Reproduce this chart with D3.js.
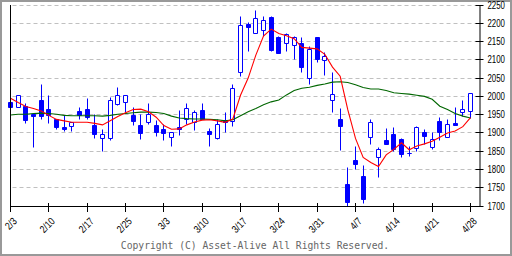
<!DOCTYPE html>
<html>
<head>
<meta charset="utf-8">
<script src="https://cdn.jsdelivr.net/npm/d3@7"></script>
<style>
body { margin: 0; background: #fff; }
svg { display: block; }
</style>
</head>
<body>
<svg id="chart" width="512" height="256"></svg>
<script>
// daily candles, 2/3 .. 4/28 (one slot per weekday)
var priceOpen  = [1982,1970,1971,1950,1988,1965,1936,1914,1917,1958,1963,1919,1886,1886,1977,1982,1948,1921,1929,1919,
                  1908,1888,1916,1938,1929,1962,1905,1885,1933,1931,2066,2196,2173,2180,2215,2162,2146,2139,2144,2050,
                  2160,2098,1990,1938,1760,1824,1782,1888,1833,1879,1897,1881,1844,1856,1901,1861,1930,1888,1925,1956,1958];
var priceHigh  = [1983,2001,1981,1951,2032,2001,1937,1947,1928,1969,1993,1951,1910,1998,2023,2001,1970,1951,1981,1933,
                  1922,1901,1960,1981,1960,1980,1911,1936,1957,2032,2218,2201,2234,2219,2219,2163,2173,2163,2162,2137,
                  2161,2121,2066,1968,1805,1864,1810,1938,1860,1911,1915,1886,1863,1917,1909,1900,1942,1936,1970,1988,2007];
var priceLow   = [1968,1970,1927,1860,1936,1927,1908,1905,1904,1936,1936,1884,1849,1879,1976,1956,1920,1881,1922,1890,
                  1879,1864,1893,1924,1906,1936,1864,1881,1902,1917,2054,2123,2173,2164,2123,2118,2123,2100,2064,2032,
                  2094,2056,1956,1852,1700,1799,1706,1867,1779,1868,1849,1833,1836,1848,1867,1855,1878,1888,1920,1945,1940];
var priceClose = [1969,2001,1934,1945,1945,1948,1915,1908,1928,1948,1942,1897,1897,1990,2001,2001,1931,1899,1951,1901,
                  1899,1901,1910,1968,1957,1938,1896,1922,1929,2022,2195,2189,2212,2207,2126,2118,2169,2162,2079,2128,
                  2100,2108,2006,1917,1709,1813,1718,1929,1855,1868,1855,1841,1845,1915,1890,1881,1901,1924,1920,1963,2007];

// moving averages
var maShort = [1995,1983,1972,1967,1960,1948,1937,1933,1929,1929,1929,1926,1922,1933,1945,1955,1964,1965,1958,1943,
               1920,1910,1911,1922,1930,1935,1936,1933,1929,1938,2003,2050,2113,2165,2184,2172,2166,2158,2134,2132,
               2130,2115,2080,2055,1963,1885,1833,1819,1808,1840,1855,1873,1854,1864,1870,1877,1888,1900,1905,1917,1942];
var maLong  = [1949,1951,1951,1953,1954,1953,1951,1948,1947,1947,1947,1947,1946,1948,1951,1953,1955,1957,1957,1956,
               1953,1946,1941,1939,1938,1938,1937,1936,1933,1936,1947,1958,1967,1977,1985,1990,2004,2016,2022,2025,
               2030,2034,2039,2040,2038,2032,2024,2020,2020,2016,2010,2008,2006,2003,2000,1992,1973,1964,1953,1946,1941];

var tickDays   = [0,5,10,15,20,25,30,35,40,45,50,55,60];
var tickLabels = ["2/3","2/10","2/17","2/25","3/3","3/10","3/17","3/24","3/31","4/7","4/14","4/21","4/28"];
var priceTicks = [1700,1750,1800,1850,1900,1950,2000,2050,2100,2150,2200,2250];

var blue = "#0000ff";
var plotLeft = 10.5, plotRight = 479.5, plotTop = 5, plotBottom = 206;

var svg = d3.select("#chart");

// frame
svg.append("rect")
   .attr("x", 1).attr("y", 1).attr("width", 510).attr("height", 254)
   .attr("fill", "#fff").attr("stroke", "#999").attr("stroke-width", 2);

var x = d3.scaleLinear().domain([0, 60]).range([10.5, 470.5]);
var y = d3.scaleLinear().domain([1700, 2250]).range([plotBottom, plotTop]);
function px(v) { return Math.round(v - 0.5) + 0.5; }

// grid
svg.append("g")
  .selectAll("line")
  .data(priceTicks.slice(1))
  .enter()
  .append("line")
    .attr("x1", plotLeft + 2).attr("x2", plotRight - 3)
    .attr("y1", function(d) { return px(y(d)); })
    .attr("y2", function(d) { return px(y(d)); })
    .attr("stroke", "#c0c0c0")
    .attr("stroke-dasharray", "4,3");

// candles
var candles = svg.append("g")
  .selectAll("g")
  .data(d3.range(priceOpen.length))
  .enter()
  .append("g");

candles.append("line")
  .attr("x1", function(i) { return px(x(i)); })
  .attr("x2", function(i) { return px(x(i)); })
  .attr("y1", function(i) { return px(y(priceHigh[i])); })
  .attr("y2", function(i) { return px(y(priceLow[i])); })
  .attr("stroke", blue);

candles.append("path")
  .attr("d", function(i) {
    var cx = px(x(i));
    var y0 = px(y(Math.max(priceOpen[i], priceClose[i])));
    var y1 = px(y(Math.min(priceOpen[i], priceClose[i])));
    return "M" + (cx - 2) + "," + y0 + "H" + (cx + 2) + "V" + y1 + "H" + (cx - 2) + "Z";
  })
  .attr("fill", function(i) { return priceClose[i] >= priceOpen[i] ? "#fff" : blue; })
  .attr("stroke", blue);

// moving averages
var line = d3.line()
  .x(function(d, i) { return x(i); })
  .y(function(d) { return y(d); });

svg.append("path").datum(maLong)
  .attr("d", line).attr("fill", "none")
  .attr("stroke", "#006600").attr("stroke-width", 1.1);

svg.append("path").datum(maShort)
  .attr("d", line).attr("fill", "none")
  .attr("stroke", "#ff0000").attr("stroke-width", 1.1);

// left axis line
svg.append("line")
  .attr("x1", plotLeft).attr("x2", plotLeft).attr("y1", plotTop).attr("y2", plotBottom + 4)
  .attr("stroke", "#000");

// right price axis
var yAxis = svg.append("g")
  .attr("transform", "translate(" + plotRight + ",0)")
  .call(d3.axisRight(y).tickValues(priceTicks).tickSize(4).tickSizeOuter(0).tickPadding(4)
          .tickFormat(d3.format("d")));
yAxis.select(".domain").attr("stroke", "#000");
yAxis.selectAll(".tick").attr("transform", function(d) { return "translate(0," + px(y(d)) + ")"; });
yAxis.selectAll(".tick line").attr("x1", -4).attr("stroke", "#000");
yAxis.selectAll(".tick text")
  .attr("font-family", "Liberation Sans, Arial, sans-serif")
  .attr("font-size", 10)
  .attr("textLength", 17.5)
  .attr("lengthAdjust", "spacingAndGlyphs")
  .attr("fill", "#000");

// bottom date axis
var xAxis = svg.append("g")
  .attr("transform", "translate(0," + plotBottom + ")")
  .call(d3.axisBottom(x).tickValues(tickDays).tickSize(6).tickSizeOuter(0)
          .tickFormat(function(d, i) { return tickLabels[i]; }));
xAxis.select(".domain").remove();
xAxis.append("line")
  .attr("x1", plotLeft).attr("x2", plotRight).attr("y1", 0.5).attr("y2", 0.5)
  .attr("stroke", "#000");
xAxis.selectAll(".tick").attr("transform", function(d) { return "translate(" + px(x(d)) + ",0)"; });
xAxis.selectAll(".tick line").attr("y1", -3).attr("stroke", "#000");
xAxis.selectAll(".tick text")
  .attr("x", 0).attr("y", 0).attr("dy", null)
  .attr("transform", "translate(7,16) rotate(-45)")
  .style("text-anchor", "end")
  .attr("font-family", "Liberation Sans, Arial, sans-serif")
  .attr("font-size", 10.5)
  .attr("textLength", function(d, i) {
    var s = tickLabels[i];
    return s.replace(/\//g, "").length * 4.5 + 2.8;
  })
  .attr("lengthAdjust", "spacingAndGlyphs")
  .attr("fill", "#000");

// copyright
svg.append("text")
  .attr("x", 255).attr("y", 249)
  .attr("text-anchor", "middle")
  .attr("font-family", "DejaVu Sans Mono, monospace")
  .attr("font-size", 9.7)
  .attr("fill", "#666")
  .text("Copyright (C) Asset-Alive All Rights Reserved.");
</script>
</body>
</html>
